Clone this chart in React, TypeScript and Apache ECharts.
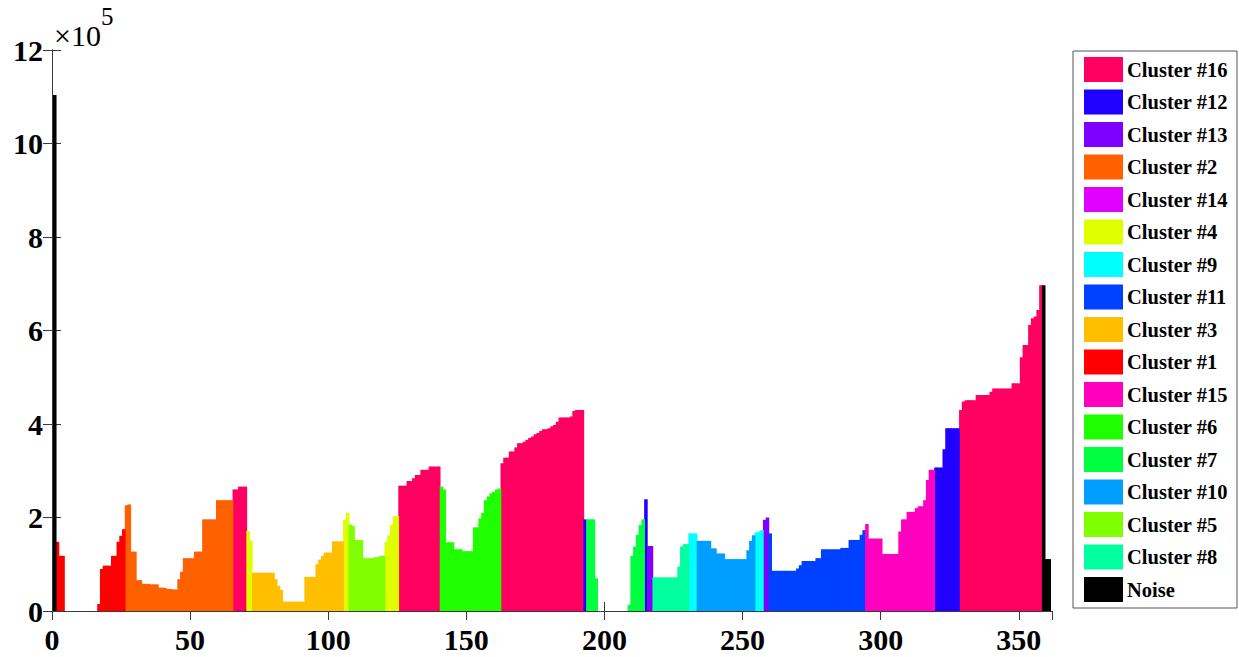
import React, { useEffect, useRef } from "react";
import * as echarts from "echarts";

// Reachability values (×10^5), in plot order, bars 1..361
const reachability: number[] = [
  // Noise (1)
  11.04,
  // Cluster #1 (2-26)
  1.48, 1.18, 1.18, 0, 0, 0, 0, 0, 0, 0, 0, 0, 0, 0, 0, 0.15, 0.9, 0.97, 0.97, 0.97, 1.18, 1.18, 1.48, 1.61, 1.75,
  // Cluster #2 (27-65)
  2.26, 2.28, 1.27, 1.27, 0.66, 0.66, 0.58, 0.58, 0.58, 0.57, 0.57, 0.57, 0.5, 0.5, 0.49, 0.47, 0.47, 0.46, 0.46,
  0.68, 0.84, 1.13, 1.13, 1.13, 1.13, 1.27, 1.27, 1.27, 1.96, 1.96, 1.96, 1.96, 1.96, 2.37, 2.37, 2.37, 2.37, 2.37, 2.37,
  // Cluster #16 (66-70)
  2.6, 2.6, 2.66, 2.66, 2.66,
  // Cluster #4 (71-72)
  1.71, 1.5,
  // Cluster #3 (73-105)
  0.82, 0.82, 0.82, 0.82, 0.82, 0.82, 0.82, 0.82, 0.68, 0.54, 0.45, 0.2, 0.2, 0.2, 0.2, 0.2, 0.2, 0.2, 0.2,
  0.73, 0.73, 0.73, 0.73, 1.0, 1.1, 1.18, 1.25, 1.25, 1.25, 1.49, 1.49, 1.49, 1.49,
  // Cluster #4 (106-107)
  1.95, 2.1,
  // Cluster #5 (108-120)
  1.85, 1.82, 1.52, 1.52, 1.52, 1.13, 1.13, 1.13, 1.13, 1.15, 1.15, 1.18, 1.18,
  // Cluster #4 (121-125)
  1.48, 1.62, 1.85, 2.03, 2.03,
  // Cluster #16 (126-140)
  2.68, 2.68, 2.68, 2.78, 2.78, 2.84, 2.91, 2.91, 3.02, 3.02, 3.02, 3.09, 3.09, 3.09, 3.09,
  // Cluster #6 (141-162)
  2.66, 2.6, 1.47, 1.47, 1.47, 1.32, 1.32, 1.32, 1.28, 1.28, 1.28, 1.28, 1.79, 1.79, 1.98, 2.1, 2.37, 2.45, 2.52, 2.55, 2.6, 2.62,
  // Cluster #16 (163-192)
  3.16, 3.28, 3.28, 3.41, 3.41, 3.5, 3.59, 3.59, 3.62, 3.66, 3.7, 3.73, 3.78, 3.81, 3.85, 3.89, 3.89, 3.91, 3.95, 3.98,
  4.05, 4.14, 4.14, 4.14, 4.14, 4.16, 4.28, 4.3, 4.3, 4.3,
  // Cluster #12 (193)
  1.96,
  // Cluster #7 (194-214)
  1.96, 1.96, 1.96, 0.7, 0, 0, 0, 0, 0, 0, 0, 0, 0, 0, 0, 0.13, 1.18, 1.38, 1.63, 1.84, 1.96,
  // Cluster #12 (215)
  2.39,
  // Cluster #13 (216-217)
  1.39, 1.39,
  // Cluster #8 (218-230)
  0.72, 0.72, 0.72, 0.72, 0.72, 0.72, 0.72, 0.72, 0.72, 0.95, 1.38, 1.43, 1.43,
  // Cluster #9 (231-233)
  1.66, 1.66, 1.66,
  // Cluster #10 (234-254)
  1.5, 1.5, 1.5, 1.5, 1.5, 1.34, 1.34, 1.23, 1.23, 1.23, 1.11, 1.11, 1.11, 1.11, 1.11, 1.11, 1.11, 1.11, 1.3, 1.5, 1.62,
  // Cluster #9 (255-257)
  1.68, 1.7, 1.73,
  // Cluster #13 (258-259)
  1.95, 2.0,
  // Cluster #11 (260-294)
  1.66, 0.86, 0.86, 0.86, 0.86, 0.86, 0.86, 0.86, 0.86, 0.86, 0.91, 0.98, 1.07, 1.07, 1.07, 1.07, 1.07, 1.13, 1.13,
  1.32, 1.32, 1.32, 1.32, 1.32, 1.32, 1.32, 1.35, 1.35, 1.35, 1.52, 1.52, 1.52, 1.52, 1.63, 1.73,
  // Cluster #15 (295-319)
  1.86, 1.55, 1.55, 1.55, 1.55, 1.55, 1.22, 1.22, 1.22, 1.22, 1.22, 1.22, 1.7, 1.96, 1.96, 2.12, 2.12, 2.12, 2.2, 2.24, 2.24,
  2.37, 2.8, 3.02, 3.02,
  // Cluster #12 (320-328)
  3.07, 3.07, 3.07, 3.46, 3.91, 3.91, 3.91, 3.91, 3.91,
  // Cluster #16 (329-358)
  4.3, 4.48, 4.51, 4.51, 4.51, 4.51, 4.62, 4.62, 4.62, 4.62, 4.62, 4.69, 4.76, 4.76, 4.76, 4.76, 4.76, 4.76, 4.76,
  4.87, 4.87, 4.87, 5.43, 5.69, 5.69, 6.12, 6.26, 6.3, 6.44, 6.97,
  // Noise (359-361)
  6.97, 1.11, 1.11,
];

// Consecutive runs of bars and the cluster each run belongs to
const runClusters: string[] = [
  "Noise", "Cluster #1", "Cluster #2", "Cluster #16", "Cluster #4", "Cluster #3", "Cluster #4", "Cluster #5",
  "Cluster #4", "Cluster #16", "Cluster #6", "Cluster #16", "Cluster #12", "Cluster #7", "Cluster #12",
  "Cluster #13", "Cluster #8", "Cluster #9", "Cluster #10", "Cluster #9", "Cluster #13", "Cluster #11",
  "Cluster #15", "Cluster #12", "Cluster #16", "Noise",
];
const runLengths: number[] = [1, 25, 39, 5, 2, 33, 2, 13, 5, 15, 22, 30, 1, 21, 1, 2, 13, 3, 21, 3, 2, 35, 25, 9, 30, 3];

// Legend order and colours
const clusterNames: string[] = [
  "Cluster #16", "Cluster #12", "Cluster #13", "Cluster #2", "Cluster #14", "Cluster #4", "Cluster #9",
  "Cluster #11", "Cluster #3", "Cluster #1", "Cluster #15", "Cluster #6", "Cluster #7", "Cluster #10",
  "Cluster #5", "Cluster #8", "Noise",
];
const clusterColors: string[] = [
  "#FF0060", "#2000FF", "#8000FF", "#FF6000", "#DF00FF", "#DFFF00", "#00FFFF",
  "#0040FF", "#FFBF00", "#FF0000", "#FF00BF", "#20FF00", "#00FF40", "#009FFF",
  "#80FF00", "#00FF9F", "#000000",
];

const yTicks: number[] = [0, 2, 4, 6, 8, 10, 12];
const xTicks: number[] = [0, 50, 100, 150, 200, 250, 300, 350];

const FONT = "'Liberation Serif', 'Times New Roman', serif";

export default function App() {
  const ref = useRef<HTMLDivElement>(null);

  useEffect(() => {
    if (!ref.current) return;
    const chart = echarts.init(ref.current, undefined, { renderer: "svg" });

    // assign each bar its cluster
    const barCluster: string[] = [];
    runClusters.forEach((c, i) => {
      for (let k = 0; k < runLengths[i]; k++) barCluster.push(c);
    });

    const series = clusterNames.map((name, ci) => {
      const data: number[][] = [];
      reachability.forEach((v, i) => {
        if (barCluster[i] === name) data.push([i + 1, v]);
      });
      const color = clusterColors[ci];
      return {
        type: "custom",
        name,
        itemStyle: { color },
        data,
        encode: { x: 0, y: 1 },
        renderItem: (params: any, api: any) => {
          const x = api.value(0);
          const y = api.value(1);
          if (!(y > 0)) return null;
          const p0 = api.coord([x - 0.5, y]);
          const p1 = api.coord([x + 0.5, 0]);
          return {
            type: "rect",
            shape: { x: p0[0] - 0.4, y: p0[1], width: p1[0] - p0[0] + 0.8, height: p1[1] - p0[1] },
            style: { fill: color },
          };
        },
      };
    });

    const axisLine = { show: true, lineStyle: { color: "#3a3a3a", width: 1 } };
    const axisTick = { show: true, inside: true, length: 9, lineStyle: { color: "#3a3a3a" } };

    chart.setOption({
      animation: false,
      grid: { left: 52, top: 50, right: 187, bottom: 46, containLabel: false },
      xAxis: [
        {
          type: "value",
          min: 0,
          max: 362,
          interval: 50,
          axisLine,
          axisTick,
          splitLine: { show: false },
          axisLabel: {
            show: true,
            margin: 13,
            color: "#000",
            fontFamily: FONT,
            fontWeight: "bold",
            fontSize: 30,
            showMaxLabel: false,
            formatter: (v: number) => (xTicks.includes(v) ? String(v) : ""),
          },
        },
        {
          type: "value",
          position: "top",
          min: 0,
          max: 362,
          interval: 50,
          axisLine,
          axisTick,
          splitLine: { show: false },
          axisLabel: { show: false },
        },
      ],
      yAxis: [
        {
          type: "value",
          min: 0,
          max: 12,
          interval: 2,
          axisLine,
          axisTick,
          splitLine: { show: false },
          axisLabel: {
            margin: 9,
            color: "#000",
            fontFamily: FONT,
            fontWeight: "bold",
            fontSize: 30,
            formatter: (v: number) => (yTicks.includes(v) ? String(v) : ""),
          },
        },
        {
          type: "value",
          position: "right",
          min: 0,
          max: 12,
          interval: 2,
          axisLine,
          axisTick,
          splitLine: { show: false },
          axisLabel: { show: false },
        },
      ],
      legend: {
        orient: "vertical",
        left: 1084,
        top: 57,
        padding: 0,
        itemWidth: 39,
        itemHeight: 25,
        itemGap: 7.5,
        icon: "rect",
        data: clusterNames,
        selectedMode: false,
        textStyle: { fontFamily: FONT, fontWeight: "bold", fontSize: 20.5, color: "#000", padding: [0, 0, 0, -1] },
      },
      graphic: [
        {
          type: "rect",
          shape: { x: 1073, y: 51, width: 164, height: 557 },
          style: { fill: "none", stroke: "#555", lineWidth: 1 },
          silent: true,
        },
        {
          type: "text",
          x: 54,
          y: 20,
          style: { text: "×10", font: `30px ${FONT}`, fill: "#000" },
          silent: true,
        },
        {
          type: "text",
          x: 101,
          y: 4,
          style: { text: "5", font: `25px ${FONT}`, fill: "#000" },
          silent: true,
        },
      ],
      series,
    });

    return () => chart.dispose();
  }, []);

  return (
    <div
      ref={ref}
      style={{ position: "fixed", left: 0, top: 0, width: 1239, height: 657, background: "#fff" }}
    />
  );
}
